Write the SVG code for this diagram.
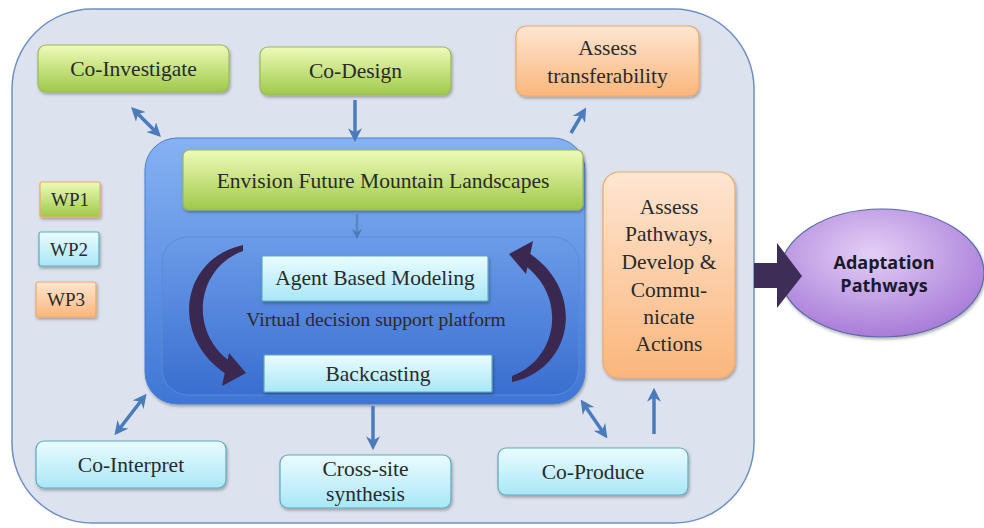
<svg xmlns="http://www.w3.org/2000/svg" width="984" height="528" viewBox="0 0 984 528">
<defs>
<linearGradient id="gGreen" x1="0" y1="0" x2="0" y2="1"><stop offset="0" stop-color="#eefbb8"/><stop offset="1" stop-color="#9fc94a"/></linearGradient>
<linearGradient id="gOrange" x1="0" y1="0" x2="0" y2="1"><stop offset="0" stop-color="#fee6d2"/><stop offset="1" stop-color="#fbb67c"/></linearGradient>
<linearGradient id="gCyan" x1="0" y1="0" x2="0" y2="1"><stop offset="0" stop-color="#eafcff"/><stop offset="1" stop-color="#a9e7f7"/></linearGradient>
<linearGradient id="gBlue" x1="0" y1="0" x2="0" y2="1"><stop offset="0" stop-color="#86b2f3"/><stop offset="1" stop-color="#3e76d6"/></linearGradient>
<linearGradient id="gInner" x1="0" y1="0" x2="0" y2="1"><stop offset="0" stop-color="#6b9ce8"/><stop offset="1" stop-color="#3a6ed0"/></linearGradient>
<radialGradient id="gPurple" cx="0.45" cy="0.35" r="0.7"><stop offset="0" stop-color="#e4cff6"/><stop offset="1" stop-color="#a476d6"/></radialGradient>
<marker id="ah" viewBox="0 0 10 10" refX="7" refY="5" markerWidth="4" markerHeight="4" orient="auto-start-reverse"><path d="M0,0 L10,5 L0,10 L3,5 z" fill="#4a7cbc"/></marker>
<filter id="sh" x="-10%" y="-10%" width="130%" height="140%"><feDropShadow dx="1" dy="2" stdDeviation="1.5" flood-color="#000" flood-opacity="0.3"/></filter>
<g id="cycleArrow">
<path d="M243,245 C182,258 168,335 226,374 L231,362 C188,332 196,268 243,251 Z" fill="#3a2850"/>
<path d="M246,373 L229,353 L222,386 Z" fill="#3a2850"/>
</g>
</defs>
<style>
.t{font-family:"Liberation Serif","DejaVu Serif",serif;font-size:21.5px;fill:#2a2a2a;text-anchor:middle}
.green{fill:url(#gGreen);stroke:#9ab85a;stroke-width:1.2}
.orange{fill:url(#gOrange);stroke:#f0a868;stroke-width:1.2}
.cyan{fill:url(#gCyan);stroke:#5fa9bf;stroke-width:1.2}
.conn{stroke:#4a7cbc;stroke-width:3.5;fill:none}
</style>
<rect id="outer" x="12" y="9" width="742" height="514" rx="80" ry="80" fill="#dde3ee" stroke="#6e8ec6" stroke-width="1.5"/>

<g id="platform">
<rect x="145" y="138" width="440" height="266" rx="32" fill="url(#gBlue)" stroke="#4b7fd0" stroke-width="1" filter="url(#sh)"/>
<rect x="162" y="237" width="417" height="158" rx="26" fill="url(#gInner)" stroke="#5a8ad8" stroke-width="1"/>
</g>

<g id="co-investigate"><rect class="green" x="38" y="45" width="191" height="47" rx="8" filter="url(#sh)"/><text class="t" x="133.5" y="76">Co-Investigate</text></g>
<g id="co-design"><rect class="green" x="260" y="47" width="191" height="48" rx="8" filter="url(#sh)"/><text class="t" x="355.5" y="78">Co-Design</text></g>
<g id="assess-transferability"><rect class="orange" x="516" y="26" width="183" height="70" rx="10" filter="url(#sh)"/><text class="t" x="607.5" y="55">Assess</text><text class="t" x="607.5" y="83">transferability</text></g>
<g id="envision"><rect class="green" x="183" y="150" width="400" height="60" rx="6" filter="url(#sh)"/><text class="t" x="383" y="188">Envision Future Mountain Landscapes</text></g>
<g id="abm"><rect class="cyan" x="262" y="256" width="226" height="45" rx="1" filter="url(#sh)"/><text class="t" x="375" y="285">Agent Based Modeling</text></g>
<text class="t" x="376" y="326" style="font-size:19.5px">Virtual decision support platform</text>
<g id="backcasting"><rect class="cyan" x="264" y="355" width="228" height="37" rx="1" filter="url(#sh)"/><text class="t" x="378" y="381">Backcasting</text></g>

<g id="wp1"><rect class="green" x="40" y="182" width="60" height="35" rx="2" style="stroke:#f0a868" filter="url(#sh)"/><text class="t" x="70" y="206" style="font-size:19px">WP1</text></g>
<g id="wp2"><rect class="cyan" x="39" y="232" width="60" height="34" rx="2" filter="url(#sh)"/><text class="t" x="69" y="256" style="font-size:19px">WP2</text></g>
<g id="wp3"><rect class="orange" x="36" y="282" width="60" height="35" rx="2" filter="url(#sh)"/><text class="t" x="66" y="306" style="font-size:19px">WP3</text></g>

<g id="assess-pathways"><rect class="orange" x="603" y="172" width="132" height="206" rx="16" filter="url(#sh)"/>
<text class="t" x="669" y="214">Assess</text>
<text class="t" x="669" y="241">Pathways,</text>
<text class="t" x="669" y="269">Develop &amp;</text>
<text class="t" x="669" y="297">Commu-</text>
<text class="t" x="669" y="324">nicate</text>
<text class="t" x="669" y="351">Actions</text></g>

<g id="co-interpret"><rect class="cyan" x="36" y="441" width="190" height="47" rx="8" filter="url(#sh)"/><text class="t" x="131" y="472">Co-Interpret</text></g>
<g id="cross-site"><rect class="cyan" x="280" y="455" width="171" height="53" rx="8" filter="url(#sh)"/><text class="t" x="365.5" y="476">Cross-site</text><text class="t" x="365.5" y="501">synthesis</text></g>
<g id="co-produce"><rect class="cyan" x="498" y="448" width="190" height="47" rx="8" filter="url(#sh)"/><text class="t" x="593" y="479">Co-Produce</text></g>

<g id="adaptation"><ellipse cx="882" cy="273" rx="102" ry="64" fill="url(#gPurple)" stroke="#5a6aa8" stroke-width="1.2" filter="url(#sh)"/>
<text x="884" y="269" text-anchor="middle" font-family="'Open Sans','Liberation Sans',sans-serif" font-weight="bold" font-size="18" fill="#1a1a2a">Adaptation</text>
<text x="884" y="292" text-anchor="middle" font-family="'Open Sans','Liberation Sans',sans-serif" font-weight="bold" font-size="18" fill="#1a1a2a">Pathways</text></g>

<g id="connectors">
<line class="conn" x1="134" y1="110" x2="158" y2="134" marker-start="url(#ah)" marker-end="url(#ah)"/>
<line class="conn" x1="355" y1="100" x2="355" y2="138" marker-end="url(#ah)"/>
<line class="conn" x1="571" y1="133" x2="584" y2="111" marker-end="url(#ah)"/>
<line class="conn" x1="357" y1="214" x2="357" y2="236" marker-end="url(#ah)" style="stroke-width:2.5;stroke:#5a86c4"/>
<line class="conn" x1="117" y1="432" x2="144" y2="397" marker-start="url(#ah)" marker-end="url(#ah)"/>
<line class="conn" x1="373" y1="406" x2="373" y2="446" marker-end="url(#ah)"/>
<line class="conn" x1="583" y1="403" x2="605" y2="435" marker-start="url(#ah)" marker-end="url(#ah)"/>
<line class="conn" x1="654" y1="434" x2="654" y2="392" marker-end="url(#ah)"/>
<use href="#cycleArrow"/>
<use href="#cycleArrow" transform="rotate(180 377.5 313.5)"/>
<path d="M754,263 L777,263 L777,243 L802,276 L777,308 L777,288 L754,288 Z" fill="#3d2e58"/>
</g>
</svg>
